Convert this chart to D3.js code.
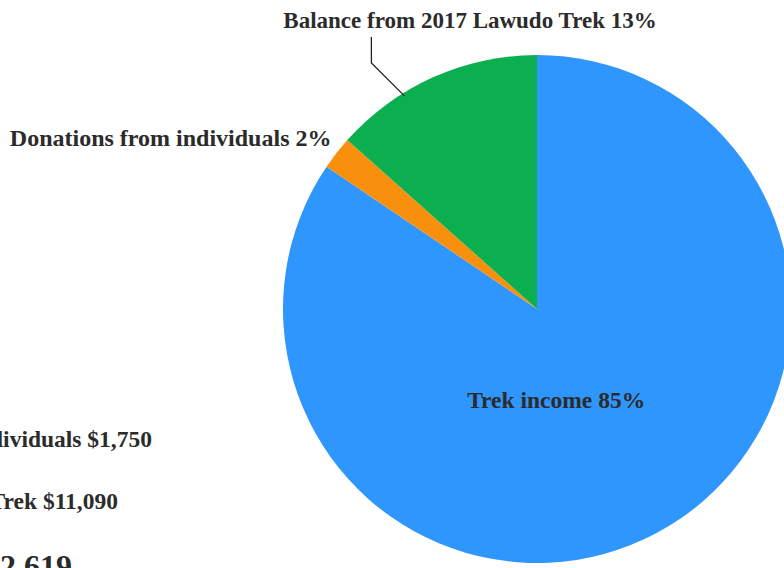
<!DOCTYPE html>
<html>
<head>
<meta charset="utf-8">
<script src="https://cdn.jsdelivr.net/npm/d3@7"></script>
<style>
  html, body { margin: 0; padding: 0; background: #fff; overflow: hidden; }
  svg text { font-family: "Liberation Serif", "DejaVu Serif", serif; font-weight: bold; fill: #2b2b2b; }
</style>
</head>
<body>
<svg id="chart" width="784" height="568"></svg>
<script>
// slices, clockwise from 12 o'clock
var categories = ["Trek income", "Donations from individuals", "Balance from 2017 Lawudo Trek"];
var amounts = [69779, 1750, 11090];
var percentLabels = ["85%", "2%", "13%"];
var colors = ["#2e96fd", "#f8900e", "#0caf4f"];

// side text block (partly off the page)
var sideLines = ["Donations from individuals $1,750", "Balance from 2017 Lawudo Trek $11,090", "Total $82,619"];

var svg = d3.select("#chart");
var cx = 537, cy = 309, r = 254;

var pie = d3.pie().sort(null).value(function (d) { return d; });
var arcs = pie(amounts);
var arc = d3.arc().innerRadius(0).outerRadius(r);

var g = svg.append("g").attr("transform", "translate(" + cx + "," + cy + ")");

g.selectAll("path")
    .data(arcs)
    .enter()
    .append("path")
    .attr("d", arc)
    .style("fill", function (d, i) { return colors[i]; });

// label inside the big slice
var inner = d3.arc().innerRadius(0).outerRadius(r * 0.74);
var c0 = inner.centroid({ startAngle: arcs[0].startAngle, endAngle: arcs[0].endAngle + 0.5 });
g.append("text")
    .attr("x", c0[0] - 3)
    .attr("y", c0[1] + 8)
    .attr("text-anchor", "middle")
    .style("font-size", "23.5px")
    .text(categories[0] + " " + percentLabels[0]);

// donations label, to the left of its slice
var outer = d3.arc().innerRadius(r).outerRadius(r);
var c1 = outer.centroid(arcs[1]);
g.append("text")
    .attr("x", c1[0] - 5)
    .attr("y", c1[1] - 7)
    .attr("text-anchor", "end")
    .style("font-size", "24px")
    .text(categories[1] + " " + percentLabels[1]);

// balance label above the pie with a leader line
var a2 = arcs[2].startAngle + (arcs[2].endAngle - arcs[2].startAngle) * 0.34;
var p2 = [Math.sin(a2) * (r - 3), -Math.cos(a2) * (r - 3)];
var elbow = [p2[0] - 33, p2[1] - 33];
g.append("path")
    .attr("d", "M" + p2 + "L" + elbow + "L" + [elbow[0], elbow[1] - 26])
    .style("fill", "none")
    .style("stroke", "#222")
    .style("stroke-width", 1.3);
g.append("text")
    .attr("x", -67)
    .attr("y", -281)
    .attr("text-anchor", "middle")
    .style("font-size", "23px")
    .text(categories[2] + " " + percentLabels[2]);

// text block cut by the left edge
var side = svg.append("g");
var sideEnds = [152, 118, 72];
var sideBase = [447, 509, 577];
var sideSize = [23.5, 23.5, 32];
side.selectAll("text")
    .data(sideLines)
    .enter()
    .append("text")
    .attr("x", function (d, i) { return sideEnds[i]; })
    .attr("y", function (d, i) { return sideBase[i]; })
    .attr("text-anchor", "end")
    .style("font-size", function (d, i) { return sideSize[i] + "px"; })
    .text(function (d) { return d; });
</script>
</body>
</html>
